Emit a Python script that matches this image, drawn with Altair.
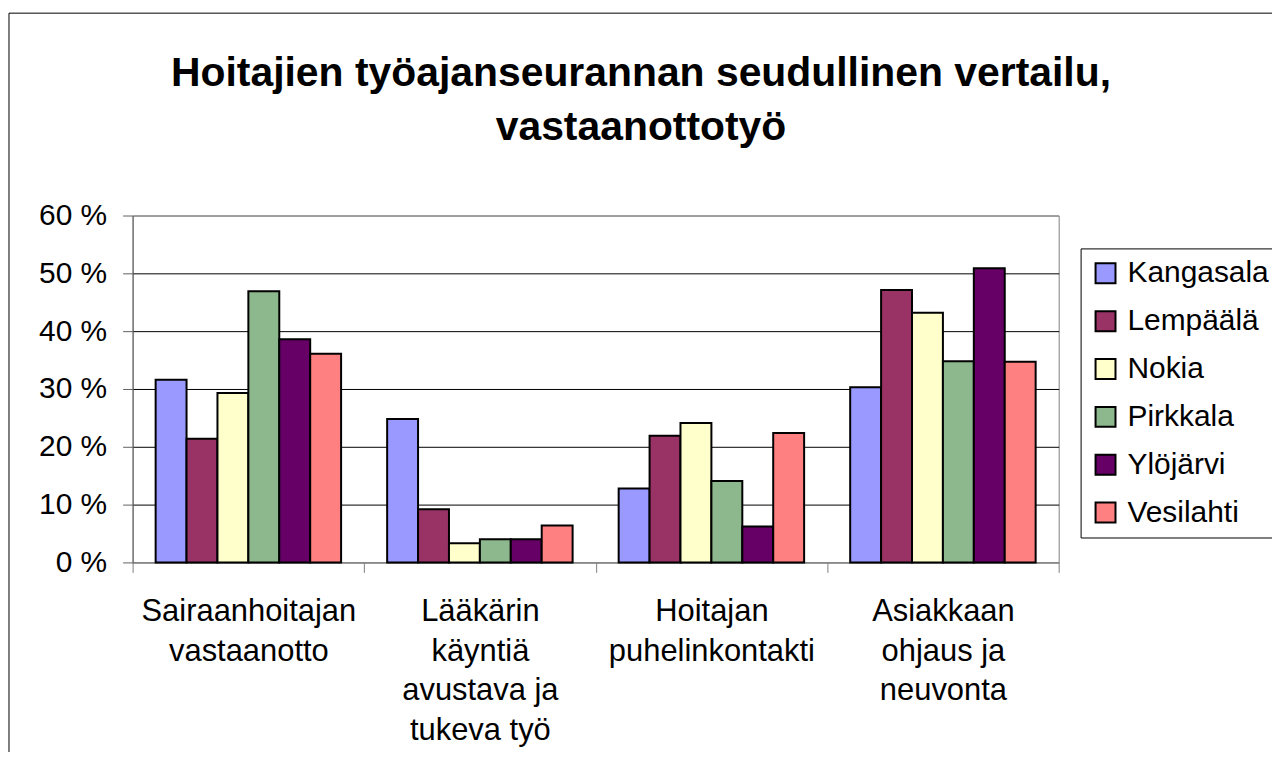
import altair as alt
import pandas as pd

categories = [
    "Sairaanhoitajan\nvastaanotto",
    "Lääkärin\nkäyntiä\navustava ja\ntukeva työ",
    "Hoitajan\npuhelinkontakti",
    "Asiakkaan\nohjaus ja\nneuvonta",
]
cities = ["Kangasala", "Lempäälä", "Nokia", "Pirkkala", "Ylöjärvi", "Vesilahti"]
colors = ["#9999FF", "#993366", "#FFFFCC", "#8DB88D", "#660066", "#FF8080"]

kangasala = [31.6, 24.8, 12.8, 30.3]
lempaala = [21.4, 9.2, 21.9, 47.1]
nokia = [29.3, 3.3, 24.1, 43.2]
pirkkala = [46.9, 4.0, 14.1, 34.8]
ylojarvi = [38.6, 4.0, 6.2, 50.9]
vesilahti = [36.1, 6.4, 22.4, 34.7]
series = [kangasala, lempaala, nokia, pirkkala, ylojarvi, vesilahti]

y_ticks = [0, 10, 20, 30, 40, 50, 60]

rows = []
for city, vals in zip(cities, series):
    for cat, v in zip(categories, vals):
        rows.append({"category": cat, "city": city, "value": v})
df = pd.DataFrame(rows)

FONT = "Liberation Sans"

bars = alt.Chart(df).mark_bar(stroke="black", strokeWidth=2, opacity=1).encode(
    x=alt.X(
        "category:N",
        sort=categories,
        scale=alt.Scale(paddingInner=0, paddingOuter=0),
        axis=alt.Axis(
            title=None,
            labelAngle=0,
            labelExpr="split(datum.label, '\\n')",
            labelFont=FONT,
            labelFontSize=31,
            labelLineHeight=40,
            labelPadding=24,
            labelLimit=400,
            labelColor="black",
            tickBand="extent",
            tickSize=10,
            tickColor="#808080",
            domainColor="#808080",
            grid=False,
        ),
    ),
    xOffset=alt.XOffset(
        "city:N",
        sort=cities,
        scale=alt.Scale(paddingInner=0, paddingOuter=0.745),
    ),
    y=alt.Y(
        "value:Q",
        scale=alt.Scale(domain=[0, 60], nice=False),
        axis=alt.Axis(
            title=None,
            values=y_ticks,
            labelExpr="datum.value + ' %'",
            labelFont=FONT,
            labelFontSize=30,
            labelPadding=16,
            labelColor="black",
            tickSize=10,
            tickColor="#606060",
            domainColor="#606060",
            gridColor={
                "condition": {"test": "datum.value == 60 || datum.value == 0", "value": "#808080"},
                "value": "black",
            },
            gridWidth=1,
        ),
    ),
    color=alt.Color(
        "city:N",
        sort=cities,
        scale=alt.Scale(domain=cities, range=colors),
        legend=alt.Legend(
            title=None,
            orient="none",
            legendX=951,
            legendY=33,
            symbolType="square",
            symbolSize=400,
            symbolStrokeColor="black",
            symbolStrokeWidth=2,
            symbolOpacity=1,
            labelFont=FONT,
            labelFontSize=30,
            labelColor="black",
            labelOffset=7,
            rowPadding=18,
            padding=10,
            strokeColor="black",
            fillColor="white",
        ),
    ),
)

border = alt.Chart(pd.DataFrame({"a": [0]})).mark_rect(
    fillOpacity=0, stroke="black", strokeWidth=1
).encode(
    x=alt.value(-124),
    x2=alt.value(1160),
    y=alt.value(-203),
    y2=alt.value(570),
)

chart = alt.layer(border, bars).properties(
    width=929,
    height=348,
    autosize=alt.AutoSizeParams(type="none"),
    padding={"left": 125, "top": 207, "right": 214, "bottom": 189},
    background="white",
    title=alt.TitleParams(
        text=["Hoitajien työajanseurannan seudullinen vertailu,", "vastaanottotyö"],
        font=FONT,
        fontSize=41,
        fontWeight="bold",
        color="black",
        anchor="middle",
        frame="group",
        lineHeight=54,
        baseline="alphabetic",
        offset=-169,
        dx=45.5,
    ),
).configure_view(stroke="#808080", strokeWidth=1)

chart.save("out.html", embed_options={"renderer": "svg", "actions": False})
